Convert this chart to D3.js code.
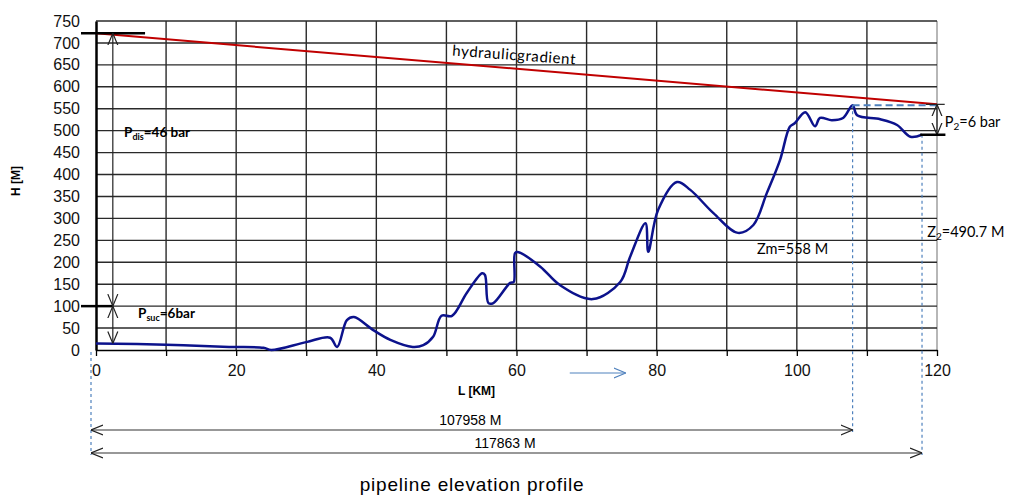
<!DOCTYPE html>
<html>
<head>
<meta charset="utf-8">
<script src="https://cdn.jsdelivr.net/npm/d3@7"></script>
<style>
  body { margin: 0; background: #fff; }
  text { font-family: "Liberation Sans", Arial, sans-serif; }
  .note { font-family: Lato, "Open Sans", sans-serif; }
</style>
</head>
<body>
<div id="chart"></div>
<script>
// pipeline profile (km, m)
var distanceKm = [0, 10, 19, 23.9, 25, 30, 33.4, 34.4, 35.8, 36.8, 39.5, 42, 45.2, 46.7, 48.1, 49.3, 50.8,
  52.9, 55.1, 55.5, 56, 56.7, 59.1, 59.6, 59.8, 60.3, 63.4, 66.2, 70.9, 74.8, 76.2, 78.4, 78.8, 80.2,
  82.9, 84.8, 88.1, 91.6, 93.8, 95.7, 97.6, 99, 99.7, 101.2, 102.6, 103.3, 105, 106.6, 107.958,
  108.6, 111.9, 114.3, 116.2, 117.863];
var elevationM = [15, 12, 7, 5, 0, 18, 28, 7, 68, 75, 46, 23, 7, 11, 30, 78, 78,
  130, 175, 171, 107, 107, 153, 155, 221, 223, 190, 148, 116, 155, 212, 289, 224, 319,
  383, 365, 312, 267, 285, 357, 433, 509, 517, 542, 510, 529, 524, 529, 558,
  535, 526, 513, 486, 490.7];

var gradientKm = [0, 120];
var gradientH = [722, 560];

var xTicks = [0, 20, 40, 60, 80, 100, 120];
var yTicks = [0, 50, 100, 150, 200, 250, 300, 350, 400, 450, 500, 550, 600, 650, 700, 750];

var suctionHead = 100;   // Psuc line
var peakKm = 107.958, peakH = 558;
var endKm = 117.863, endH = 490.7;

var x = d3.scaleLinear().domain([0, 120]).range([96, 937]);
var y = d3.scaleLinear().domain([0, 750]).range([350, 21]);

var svg = d3.select("#chart").append("svg")
  .attr("width", 1010)
  .attr("height", 496);

var defs = svg.append("defs");
function openArrow(id, color) {
  defs.append("marker")
    .attr("id", id)
    .attr("viewBox", "0 -6 12 12")
    .attr("refX", 12).attr("refY", 0)
    .attr("markerWidth", 12).attr("markerHeight", 12)
    .attr("markerUnits", "userSpaceOnUse")
    .attr("orient", "auto-start-reverse")
    .append("path")
    .attr("d", "M0,-5L12,0L0,5")
    .attr("fill", "none")
    .attr("stroke", color)
    .attr("stroke-width", 1.2);
}
openArrow("arrBlack", "#222");
openArrow("arrBlue", "#4f81bd");

// grid
svg.append("g").selectAll("line")
  .data(d3.range(10, 121, 10))
  .enter().append("line")
  .attr("x1", function(d) { return x(d); })
  .attr("x2", function(d) { return x(d); })
  .attr("y1", y(0)).attr("y2", y(750))
  .attr("stroke", function(d) { return d === 120 ? "#999" : "#2a2a2a"; })
  .attr("stroke-width", 1.4);

svg.append("g").selectAll("line")
  .data(yTicks.slice(1))
  .enter().append("line")
  .attr("x1", x(0)).attr("x2", x(120))
  .attr("y1", function(d) { return y(d); })
  .attr("y2", function(d) { return y(d); })
  .attr("stroke", "#2a2a2a")
  .attr("stroke-width", 1.4);

// x axis
var xAxis = svg.append("g")
  .attr("transform", "translate(0," + y(0) + ")")
  .call(d3.axisBottom(x).tickValues(d3.range(0, 121, 10)).tickSize(6).tickSizeOuter(0)
    .tickFormat(function(d) { return xTicks.indexOf(d) >= 0 ? d : ""; }));
xAxis.select(".domain").attr("stroke", "#000").attr("stroke-width", 1.5);
xAxis.selectAll(".tick line").attr("stroke", "#000").attr("stroke-width", 1.3);
xAxis.selectAll("text")
  .attr("y", 15)
  .style("font-size", "16px")
  .style("font-family", "Liberation Sans, Arial, sans-serif")
  .attr("fill", "#111");

// y axis
var yAxis = svg.append("g")
  .attr("transform", "translate(" + x(0) + ",0)")
  .call(d3.axisLeft(y).tickValues(yTicks).tickSize(0).tickPadding(16));
yAxis.select(".domain").attr("stroke", "#000").attr("stroke-width", 2.5);
yAxis.selectAll("text")
  .style("font-size", "16px")
  .style("font-family", "Liberation Sans, Arial, sans-serif")
  .attr("fill", "#111");

svg.append("text")
  .attr("transform", "translate(20," + y(385) + ") rotate(-90)")
  .attr("text-anchor", "middle")
  .style("font-size", "12px")
  .style("font-weight", "bold")
  .text("H [M]");

svg.append("text")
  .attr("x", x(54.3)).attr("y", 395)
  .attr("text-anchor", "middle")
  .style("font-size", "12px")
  .style("font-weight", "bold")
  .text("L [KM]");

// hydraulic gradient
var gradLine = d3.line()
  .x(function(d) { return x(d[0]); })
  .y(function(d) { return y(d[1]); });
svg.append("path")
  .attr("d", gradLine(d3.zip(gradientKm, gradientH)))
  .attr("stroke", "#c00000")
  .attr("stroke-width", 2)
  .attr("fill", "none");

svg.append("text")
  .attr("class", "note")
  .attr("transform", "translate(" + x(50.8) + "," + (y(gradientH[0] + (gradientH[1] - gradientH[0]) * 51 / 120) - 8) + ") rotate(4.2)")
  .style("font-size", "15px")
  .style("letter-spacing", "0.6px")
  .text("hydraulicgradient");

// elevation profile
var profile = d3.line()
  .x(function(d) { return x(d[0]); })
  .y(function(d) { return y(d[1]); })
  .curve(d3.curveCatmullRom.alpha(0.5));
svg.append("path")
  .attr("d", profile(d3.zip(distanceKm, elevationM)))
  .attr("stroke", "#0c128c")
  .attr("stroke-width", 2.5)
  .attr("fill", "none");

// left head markers
svg.append("line")
  .attr("x1", x(0) - 15).attr("x2", x(7))
  .attr("y1", y(gradientH[0])).attr("y2", y(gradientH[0]))
  .attr("stroke", "#000").attr("stroke-width", 2.5);
svg.append("line")
  .attr("x1", x(0) - 15).attr("x2", x(2.4))
  .attr("y1", y(suctionHead)).attr("y2", y(suctionHead))
  .attr("stroke", "#000").attr("stroke-width", 2.5);

svg.append("line")
  .attr("x1", x(2.4)).attr("x2", x(2.4))
  .attr("y1", y(gradientH[0])).attr("y2", y(suctionHead))
  .attr("stroke", "#222").attr("stroke-width", 1.2)
  .attr("marker-start", "url(#arrBlack)")
  .attr("marker-end", "url(#arrBlack)");
svg.append("line")
  .attr("x1", x(2.4)).attr("x2", x(2.4))
  .attr("y1", y(suctionHead)).attr("y2", y(elevationM[0]))
  .attr("stroke", "#222").attr("stroke-width", 1.2)
  .attr("marker-start", "url(#arrBlack)")
  .attr("marker-end", "url(#arrBlack)");

var pdis = svg.append("text").attr("class", "note").attr("x", x(4)).attr("y", y(485))
  .style("font-size", "13.5px").style("font-weight", "bold");
pdis.append("tspan").text("P");
pdis.append("tspan").attr("dy", 3).style("font-size", "9px").text("dis");
pdis.append("tspan").attr("dy", -3).text("=46 bar");

var psuc = svg.append("text").attr("class", "note").attr("x", x(6)).attr("y", y(73))
  .style("font-size", "13.5px").style("font-weight", "bold");
psuc.append("tspan").text("P");
psuc.append("tspan").attr("dy", 3).style("font-size", "9px").text("suc");
psuc.append("tspan").attr("dy", -3).text("=6bar");

// peak / end dashed guides
svg.append("line")
  .attr("x1", x(peakKm)).attr("x2", x(120))
  .attr("y1", y(peakH)).attr("y2", y(peakH))
  .attr("stroke", "#4f81bd").attr("stroke-width", 2)
  .attr("stroke-dasharray", "7,4");
svg.append("line")
  .attr("x1", x(peakKm)).attr("x2", x(peakKm))
  .attr("y1", y(peakH)).attr("y2", 432)
  .attr("stroke", "#4f81bd").attr("stroke-width", 1.2)
  .attr("stroke-dasharray", "3,3");
svg.append("line")
  .attr("x1", x(endKm)).attr("x2", x(endKm))
  .attr("y1", y(endH)).attr("y2", 455)
  .attr("stroke", "#4f81bd").attr("stroke-width", 1.2)
  .attr("stroke-dasharray", "3,3");
svg.append("line")
  .attr("x1", x(0) - 5).attr("x2", x(0) - 5)
  .attr("y1", y(0) + 2).attr("y2", 455)
  .attr("stroke", "#4f81bd").attr("stroke-width", 1.2)
  .attr("stroke-dasharray", "3,3");

// outlet pressure arrow
svg.append("line")
  .attr("x1", x(120)).attr("x2", x(120))
  .attr("y1", y(gradientH[1])).attr("y2", y(endH))
  .attr("stroke", "#222").attr("stroke-width", 1.2)
  .attr("marker-start", "url(#arrBlack)")
  .attr("marker-end", "url(#arrBlack)");
svg.append("line")
  .attr("x1", x(118.4)).attr("x2", x(121.1))
  .attr("y1", y(gradientH[1])).attr("y2", y(gradientH[1]))
  .attr("stroke", "#222").attr("stroke-width", 1.2);
svg.append("line")
  .attr("x1", x(117.6)).attr("x2", x(121.2))
  .attr("y1", y(endH)).attr("y2", y(endH))
  .attr("stroke", "#000").attr("stroke-width", 2.5);

var p2 = svg.append("text").attr("class", "note")
  .attr("x", x(121.1)).attr("y", y(520) + 5)
  .style("font-size", "14.5px");
p2.append("tspan").text("P");
p2.append("tspan").attr("dy", 3).style("font-size", "10px").text("2");
p2.append("tspan").attr("dy", -3).text("=6 bar");

svg.append("text").attr("class", "note")
  .attr("x", x(94.3)).attr("y", y(230) + 5)
  .style("font-size", "14.5px")
  .text("Zm=" + peakH + " M");

var z2 = svg.append("text").attr("class", "note")
  .attr("x", x(118.6)).attr("y", y(268) + 5)
  .style("font-size", "14.5px");
z2.append("tspan").text("Z");
z2.append("tspan").attr("dy", 3).style("font-size", "10px").text("2");
z2.append("tspan").attr("dy", -3).text("=" + endH + " M");

// flow direction arrow
svg.append("line")
  .attr("x1", x(67.6)).attr("x2", x(75.6))
  .attr("y1", 373).attr("y2", 373)
  .attr("stroke", "#4f81bd").attr("stroke-width", 1)
  .attr("marker-end", "url(#arrBlue)");

// length dimension lines
var dims = [
  { km: peakKm, yPos: 430, label: "107958 M" },
  { km: endKm, yPos: 453, label: "117863 M" }
];
dims.forEach(function(d) {
  svg.append("line")
    .attr("x1", x(0) - 5).attr("x2", x(d.km))
    .attr("y1", d.yPos).attr("y2", d.yPos)
    .attr("stroke", "#333").attr("stroke-width", 1.2)
    .attr("marker-start", "url(#arrBlack)")
    .attr("marker-end", "url(#arrBlack)");
  svg.append("text")
    .attr("x", (x(0) + x(d.km)) / 2 - 4).attr("y", d.yPos - 5)
    .attr("text-anchor", "middle")
    .style("font-size", "14px")
    .text(d.label);
});

svg.append("text")
  .attr("x", 472).attr("y", 491)
  .attr("text-anchor", "middle")
  .style("font-size", "19px")
  .style("letter-spacing", "0.8px")
  .style("font-family", "Liberation Sans, Arial, sans-serif")
  .text("pipeline elevation profile");
</script>
</body>
</html>
